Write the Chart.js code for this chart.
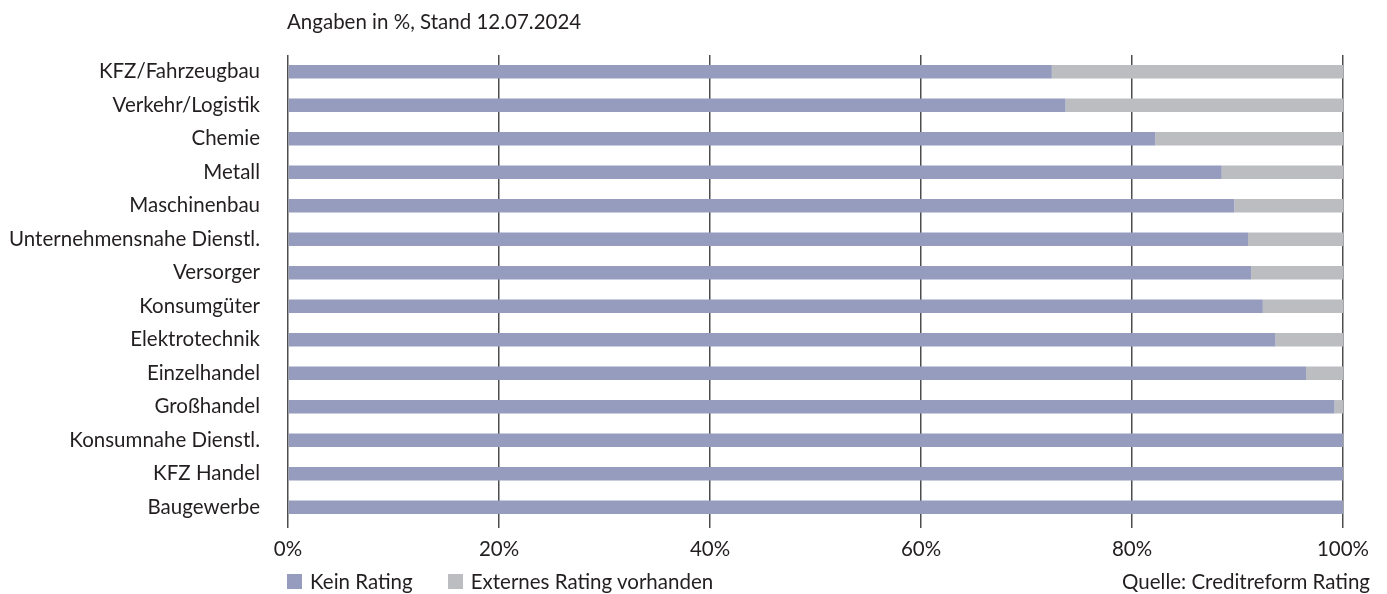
<!DOCTYPE html>
<html>
<head>
<meta charset="utf-8">
<script src="https://cdn.jsdelivr.net/npm/chart.js@4.4.1/dist/chart.umd.min.js"></script>
<style>
  html, body { margin: 0; padding: 0; background: #fff; }
  body { width: 1387px; height: 594px; position: relative; overflow: hidden; font-family: Lato, "Noto Sans", sans-serif; color: #231f20; }
  #wrap { position: absolute; left: 0; top: 0; width: 1387px; height: 594px; }
  .note { position: absolute; font-size: 20.5px; white-space: nowrap; }
  #titel { left: 287px; top: 9px; }
  #quelle { right: 17px; top: 569px; }
  #legende { position: absolute; left: 287px; top: 569px; font-size: 20.5px; display: flex; gap: 35px; }
  #legende span.item { display: flex; align-items: center; }
  #legende i { display: inline-block; width: 15px; height: 15px; margin-right: 8px; }
</style>
</head>
<body>
<div id="wrap"><canvas id="chartRating" width="1387" height="594"></canvas></div>
<div class="note" id="titel">Angaben in %, Stand 12.07.2024</div>
<div id="legende"></div>
<div class="note" id="quelle">Quelle: Creditreform Rating</div>

<script>
// =========================================================
// DATEN
// =========================================================
const branchen = [
    'KFZ/Fahrzeugbau', 'Verkehr/Logistik', 'Chemie', 'Metall', 'Maschinenbau',
    'Unternehmensnahe Dienstl.', 'Versorger', 'Konsumgüter', 'Elektrotechnik',
    'Einzelhandel', 'Großhandel', 'Konsumnahe Dienstl.', 'KFZ Handel', 'Baugewerbe'
];
const keinRating     = [72.4, 73.7, 82.2, 88.5, 89.7, 91.0, 91.3, 92.4, 93.6, 96.5, 99.2, 100, 100, 100];
const externesRating = [27.6, 26.3, 17.8, 11.5, 10.3, 9.0, 8.7, 7.6, 6.4, 3.5, 0.8, 0, 0, 0];
const xTicks = [0, 20, 40, 60, 80, 100];

const serien = [
    { label: 'Kein Rating', data: keinRating, color: '#959cbd' },
    { label: 'Externes Rating vorhanden', data: externesRating, color: '#bcbdc0' }
];

// Legende (HTML)
const legende = document.getElementById('legende');
serien.forEach(s => {
    const item = document.createElement('span');
    item.className = 'item';
    item.innerHTML = '<i style="background:' + s.color + '"></i>' + s.label;
    legende.appendChild(item);
});

const schrift = { family: 'Lato, "Noto Sans", sans-serif', size: 20.5 };

new Chart(document.getElementById('chartRating'), {
    type: 'bar',
    data: {
        labels: branchen,
        datasets: serien.map(s => ({
            label: s.label,
            data: s.data,
            backgroundColor: s.color,
            borderWidth: 0,
            categoryPercentage: 1,
            barPercentage: 0.4
        }))
    },
    options: {
        indexAxis: 'y',
        responsive: false,
        animation: false,
        layout: { padding: { top: 55, right: 44, bottom: 0, left: 0 } },
        plugins: {
            legend: { display: false },
            tooltip: { enabled: false }
        },
        scales: {
            x: {
                stacked: true,
                min: 0,
                max: 100,
                afterBuildTicks: (scale) => { scale.ticks = xTicks.map(v => ({ value: v })); },
                afterFit: (scale) => { scale.height = 70; },
                border: { display: false },
                grid: { color: '#4d4d4d', lineWidth: 1.5, tickLength: 4 },
                ticks: {
                    color: '#231f20',
                    font: schrift,
                    padding: 9,
                    maxRotation: 0,
                    callback: (v) => v + '%'
                }
            },
            y: {
                stacked: true,
                afterFit: (scale) => { scale.width = 288; },
                border: { display: false },
                grid: { display: false },
                ticks: {
                    color: '#231f20',
                    font: schrift,
                    padding: 20,
                    autoSkip: false
                }
            }
        }
    }
});
</script>
</body>
</html>
